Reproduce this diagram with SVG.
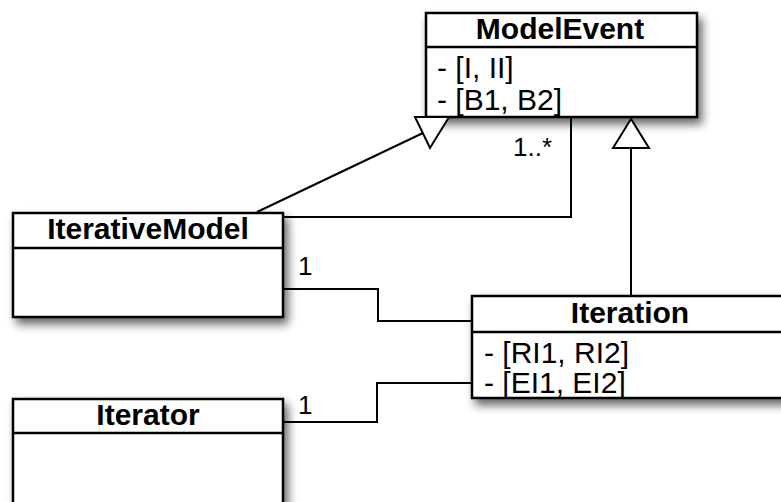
<svg xmlns="http://www.w3.org/2000/svg" width="781" height="502" viewBox="0 0 781 502">
<defs>
<filter id="sh" x="-10%" y="-10%" width="130%" height="140%">
<feDropShadow dx="4" dy="6" stdDeviation="5" flood-color="#000" flood-opacity="0.6"/>
</filter>
<style>
.box{fill:#fff;stroke:#000;stroke-width:2.5}
.sep{stroke:#000;stroke-width:2.5}
.t{font-family:"Liberation Sans",Arial,Helvetica,sans-serif;font-size:30px;fill:#000}
.h{font-weight:bold;text-anchor:middle}
.lbl{font-family:"Liberation Sans",Arial,Helvetica,sans-serif;font-size:26px;fill:#000}
.ln{fill:none;stroke:#000;stroke-width:2}
.tri{fill:#fff;stroke:#000;stroke-width:2}
</style>
</defs>
<rect width="781" height="502" fill="#fff"/>
<g id="ModelEvent">
<rect class="box" x="426" y="13" width="271" height="104" filter="url(#sh)"/>
<line class="sep" x1="426" y1="47" x2="697" y2="47"/>
<text class="t h" x="560" y="39">ModelEvent</text>
<text class="t" x="437" y="78">- [I, II]</text>
<text class="t" x="437" y="110">- [B1, B2]</text>
</g>
<g id="IterativeModel">
<rect class="box" x="13" y="213" width="270" height="104" filter="url(#sh)"/>
<line class="sep" x1="13" y1="248" x2="283" y2="248"/>
<text class="t h" x="148" y="239">IterativeModel</text>
</g>
<g id="Iteration">
<rect class="box" x="472" y="296" width="330" height="102" filter="url(#sh)"/>
<line class="sep" x1="472" y1="332" x2="802" y2="332"/>
<text class="t h" x="630" y="323">Iteration</text>
<text class="t" x="484" y="363">- [RI1, RI2]</text>
<text class="t" x="484" y="393">- [EI1, EI2]</text>
</g>
<g id="Iterator">
<rect class="box" x="13" y="399" width="270" height="130" filter="url(#sh)"/>
<line class="sep" x1="13" y1="433" x2="283" y2="433"/>
<text class="t h" x="148" y="425">Iterator</text>
</g>
<g id="connectors">
<line class="ln" x1="257" y1="212" x2="423" y2="133"/>
<polygon class="tri" points="415,117 449,117 430,148"/>
<polyline class="ln" points="283,217 571,217 571,117"/>
<text class="lbl" x="513" y="156">1..*</text>
<line class="ln" x1="631" y1="148" x2="631" y2="296"/>
<polygon class="tri" points="631,119 613,148 649,148"/>
<polyline class="ln" points="283,289 378,289 378,321 472,321"/>
<text class="lbl" x="298" y="275">1</text>
<polyline class="ln" points="283,422 377,422 377,383 472,383"/>
<text class="lbl" x="298" y="414">1</text>
</g>
</svg>
